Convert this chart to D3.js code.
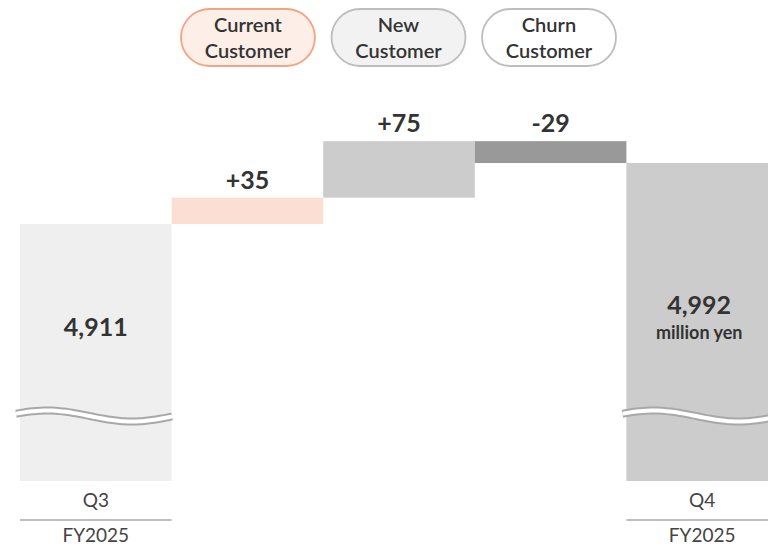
<!DOCTYPE html>
<html>
<head>
<meta charset="utf-8">
<script src="https://cdn.jsdelivr.net/npm/d3@7"></script>
<style>
  html, body { margin: 0; padding: 0; background: #fff; }
  svg { display: block; font-family: Lato, "Noto Sans", sans-serif; }
</style>
</head>
<body>
<svg id="chart" width="768" height="548"></svg>
<script>
// Quarterly revenue bridge (million yen)
const steps = ["Q3", "Current", "New", "Churn", "Q4"];
const stepKinds = ["total", "delta", "delta", "delta", "total"];
const stepValues = [4911, 35, 75, -29, 4992];
const quarterLabels = ["Q3", "", "", "", "Q4"];
const yearLabels = ["FY2025", "", "", "", "FY2025"];
const barColors = ["#efefef", "#fcdfd3", "#cccccc", "#999999", "#cccccc"];

const legendNames = [["Current", "Customer"], ["New", "Customer"], ["Churn", "Customer"]];
const legendFills = ["#fdeee8", "#f2f2f2", "#ffffff"];
const legendStrokes = ["#f3a481", "#bdbdbd", "#bdbdbd"];

const svg = d3.select("#chart");

// Build the bridge segments from the running total
let running = 0;
const bars = steps.map((s, i) => {
  let lo, hi;
  if (stepKinds[i] === "total") {
    running = stepValues[i];
    lo = null; hi = stepValues[i];
  } else {
    const prev = running;
    running += stepValues[i];
    lo = Math.min(prev, running); hi = Math.max(prev, running);
  }
  return { key: s, kind: stepKinds[i], value: stepValues[i], lo, hi, color: barColors[i], i };
});

const x = d3.scaleBand().domain(steps).range([20, 778]).paddingInner(0).paddingOuter(0);
// Axis is broken: the lower part of the totals is cut away
const y = d3.scaleLinear().domain([4570, 5000]).range([481, 157]);
const base = y.domain()[0];

svg.selectAll("rect.bar").data(bars).join("rect")
  .attr("class", "bar")
  .attr("x", d => x(d.key))
  .attr("width", x.bandwidth())
  .attr("y", d => y(d.hi))
  .attr("height", d => y(d.lo === null ? base : d.lo) - y(d.hi))
  .attr("fill", d => d.color);

// Wavy break marks across the total bars
const totals = bars.filter(d => d.kind === "total");
const wave = d3.line().curve(d3.curveBasis);
function wavePoints(x0) {
  const pts = [];
  for (let t = -4; t <= x.bandwidth() + 4; t += 4) {
    pts.push([x0 + t, 416 - 5.5 * Math.cos(2 * Math.PI * (t - 27) / 170)]);
  }
  return pts;
}
svg.selectAll("path.break-out").data(totals).join("path")
  .attr("d", d => wave(wavePoints(x(d.key))))
  .attr("fill", "none").attr("stroke", "#a8a8a8").attr("stroke-width", 8);
svg.selectAll("path.break-in").data(totals).join("path")
  .attr("d", d => wave(wavePoints(x(d.key))))
  .attr("fill", "none").attr("stroke", "#ffffff").attr("stroke-width", 4);

const fmt = d3.format(",");
// Delta labels above each step
svg.selectAll("text.delta").data(bars.filter(d => d.kind === "delta")).join("text")
  .attr("x", d => x(d.key) + x.bandwidth() / 2)
  .attr("y", d => y(d.hi) - 9)
  .attr("text-anchor", "middle")
  .attr("font-size", 25).attr("font-weight", 700).attr("fill", "#333")
  .text(d => (d.value > 0 ? "+" : "") + d.value);

// Total labels inside the bars
const q3 = bars[0], q4 = bars[4];
svg.append("text")
  .attr("x", x(q3.key) + x.bandwidth() / 2).attr("y", 336)
  .attr("text-anchor", "middle")
  .attr("font-size", 25).attr("font-weight", 700).attr("fill", "#333")
  .text(fmt(q3.value));
svg.append("text")
  .attr("x", x(q4.key) + x.bandwidth() / 2 - 3).attr("y", 314)
  .attr("text-anchor", "middle")
  .attr("font-size", 25).attr("font-weight", 700).attr("fill", "#333")
  .text(fmt(q4.value));
svg.append("text")
  .attr("x", x(q4.key) + x.bandwidth() / 2 - 3).attr("y", 339)
  .attr("text-anchor", "middle")
  .attr("font-size", 18).attr("font-weight", 700).attr("fill", "#333")
  .text("million yen");

// Category axis labels
const axisData = bars.filter((d, i) => quarterLabels[i] !== "");
svg.selectAll("text.q").data(axisData).join("text")
  .attr("x", d => x(d.key) + x.bandwidth() / 2)
  .attr("y", 507)
  .attr("text-anchor", "middle")
  .attr("font-size", 19).attr("fill", "#444")
  .text(d => quarterLabels[d.i]);
svg.selectAll("line.sep").data(axisData).join("line")
  .attr("x1", d => x(d.key)).attr("x2", d => x(d.key) + x.bandwidth())
  .attr("y1", 520).attr("y2", 520)
  .attr("stroke", "#aaa").attr("stroke-width", 1.5);
svg.selectAll("text.fy").data(axisData).join("text")
  .attr("x", d => x(d.key) + x.bandwidth() / 2)
  .attr("y", 542)
  .attr("text-anchor", "middle")
  .attr("font-size", 19).attr("fill", "#444")
  .text(d => yearLabels[d.i]);

// Legend pills
const legendX = d3.scaleBand().domain(d3.range(legendNames.length)).range([181, 616]).paddingInner(0.11).paddingOuter(0);
const lg = svg.selectAll("g.legend").data(legendNames).join("g")
  .attr("transform", (d, i) => `translate(${legendX(i)},9)`);
lg.append("rect")
  .attr("width", legendX.bandwidth()).attr("height", 57)
  .attr("rx", 28.5)
  .attr("fill", (d, i) => legendFills[i])
  .attr("stroke", (d, i) => legendStrokes[i]).attr("stroke-width", 1.8);
lg.append("text")
  .attr("x", legendX.bandwidth() / 2).attr("y", 23)
  .attr("text-anchor", "middle").attr("font-size", 20).attr("font-weight", 600).attr("fill", "#333")
  .text(d => d[0]);
lg.append("text")
  .attr("x", legendX.bandwidth() / 2).attr("y", 48.5)
  .attr("text-anchor", "middle").attr("font-size", 20).attr("font-weight", 600).attr("fill", "#333")
  .text(d => d[1]);
</script>
</body>
</html>
